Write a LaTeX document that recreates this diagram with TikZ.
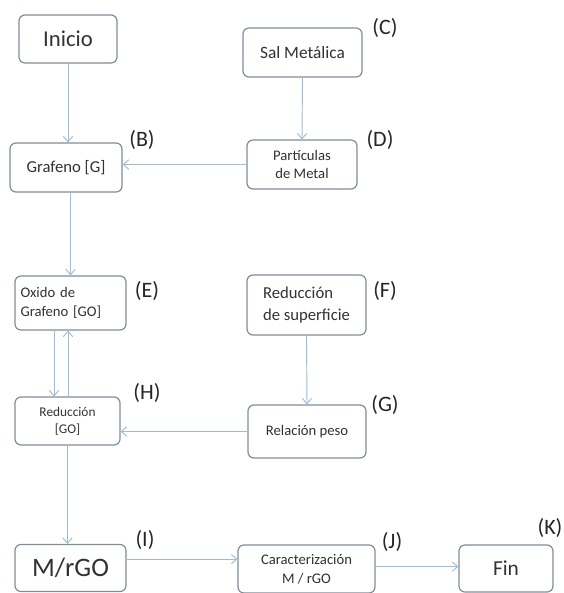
\documentclass[tikz,border=0pt]{standalone}
\usepackage{fontspec}
\setmainfont{Carlito}
\usepackage{tikz}
\usetikzlibrary{arrows.meta}
\definecolor{boxgray}{RGB}{128,142,156}
\definecolor{flowblue}{RGB}{158,188,212}
\definecolor{txtgray}{RGB}{50,50,50}

\begin{document}
\begin{tikzpicture}[x=0.75pt,y=-0.75pt,
  stage/.style={draw=boxgray,line width=0.9pt,rounded corners=4.5pt,fill=white,text=txtgray,inner sep=3pt,align=center},
  flow/.style={draw=flowblue,line width=0.7pt,-{Straight Barb[length=4pt,width=7pt]}},
  tag/.style={text=black!85,font=\fontsize{16.5}{19}\selectfont}]
  \useasboundingbox (0,0) rectangle (564,593);
  % left column
  \node[stage,minimum width=73.5pt,minimum height=36pt,font=\fontsize{17}{20}\selectfont] (inicio) at (68,39) {Inicio};
  \node[stage,minimum width=84pt,minimum height=36.75pt,font=\fontsize{12.5}{15}\selectfont] (grafeno) at (66,167.5) {Grafeno [G]};
  \node[stage,minimum width=83.25pt,minimum height=40.5pt,text width=75pt,align=left,font=\fontsize{11}{14}\selectfont] (oxido) at (70.5,303) {Oxido de\\Grafeno [GO]};
  \node[stage,minimum width=78.75pt,minimum height=36pt,font=\fontsize{10}{13}\selectfont] (reduccion) at (67.5,421) {Reducción\\{[GO]}};
  \node[stage,minimum width=83.25pt,minimum height=35.25pt,font=\fontsize{20}{23}\selectfont] (mrgo) at (70.5,568) {M/rGO};
  % right column
  \node[stage,minimum width=89.25pt,minimum height=36.75pt,font=\fontsize{13}{16}\selectfont] (sal) at (302.5,52.5) {Sal Metálica};
  \node[stage,minimum width=82.5pt,minimum height=36.75pt,font=\fontsize{11}{14}\selectfont] (particulas) at (302,164.5) {Partículas\\de Metal};
  \node[stage,minimum width=89.25pt,minimum height=45pt,align=left,font=\fontsize{12.5}{16}\selectfont] (redsup) at (306.5,305) {Reducción\\de superficie};
  \node[stage,minimum width=88.5pt,minimum height=39.75pt,font=\fontsize{11}{14}\selectfont] (relacion) at (307,431.5) {Relación peso};
  \node[stage,minimum width=102.75pt,minimum height=36pt,font=\fontsize{11}{14}\selectfont] (caract) at (306.5,569) {Caracterización\\M / rGO};
  \node[stage,minimum width=70.5pt,minimum height=35.25pt,font=\fontsize{16}{19}\selectfont] (fin) at (506,568.5) {Fin};
  % letters
  \node[tag] (tagB) at (142,140) {(B)};
  \node[tag] (tagC) at (385,28) {(C)};
  \node[tag] (tagD) at (380,140) {(D)};
  \node[tag] (tagE) at (147,291) {(E)};
  \node[tag] (tagF) at (385,291) {(F)};
  \node[tag] (tagG) at (385,405) {(G)};
  \node[tag] (tagH) at (147,393) {(H)};
  \node[tag] (tagI) at (145,540) {(I)};
  \node[tag] (tagJ) at (392,542) {(J)};
  \node[tag] (tagK) at (550,528) {(K)};
  % arrows
  \draw[flow] (inicio.south) -- (inicio.south |- grafeno.north);
  \draw[flow] (sal.south) -- (particulas.north);
  \draw[flow] (particulas.west) -- (particulas.west -| grafeno.east);
  \draw[flow] (grafeno.south -| oxido.north) -- (oxido.north);
  \draw[flow] (oxido.south -| 54,0) -- (reduccion.north -| 54,0);
  \draw[flow] (reduccion.north -| 68,0) -- (oxido.south -| 68,0);
  \draw[flow] (redsup.south) -- (relacion.north);
  \draw[flow] (relacion.west) -- (relacion.west -| reduccion.east);
  \draw[flow] (reduccion.south) -- (reduccion.south |- mrgo.north);
  \draw[flow] (mrgo.9) -- (mrgo.9 -| caract.west);
  \draw[flow] (caract.2) -- (caract.2 -| fin.west);
\end{tikzpicture}
\end{document}
